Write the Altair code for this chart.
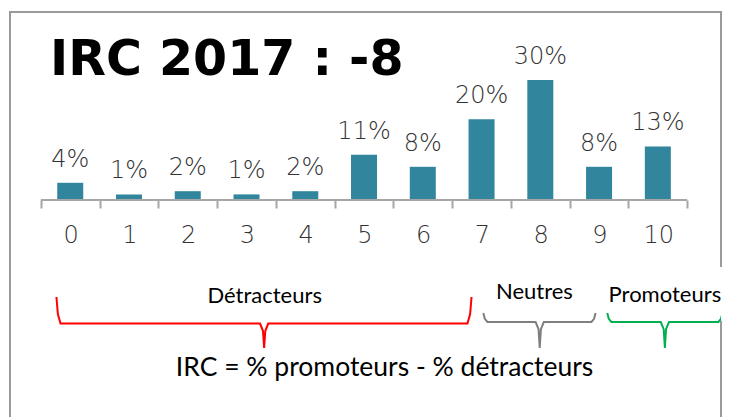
import altair as alt
import pandas as pd

# ---------------- data ----------------
scores = list(range(11))
pct = [4.3, 1.4, 2.2, 1.4, 2.2, 11.3, 8.3, 20.2, 30.0, 8.3, 13.4]

groups = ["Détracteurs", "Neutres", "Promoteurs"]
group_colors = ["#FF0000", "#7F7F7F", "#00B050"]
formula_text = "IRC = % promoteurs - % détracteurs"
title_text = "IRC 2017 : -8"

# ---------------- annotation layout (score units / % units) ----------------
brace_left = [-0.235, 7.03, 9.14]
brace_tip = [3.30, 7.99, 10.12]
brace_right = [6.83, 8.94, 11.10]
brace_top = [-24.25, -28.25, -28.25]
brace_mid = [-30.9, -30.5, -30.5]
brace_point = -37.0
group_label_x = [3.31, 7.9, 10.12]
group_label_y = [-25.75, -24.75, -25.5]
formula_pos = (5.35, -44.0)

W, H = 711, 420
x_lo, x_hi = -0.94, 10.99
y_lo, y_hi = -58.0, 47.0
zero_px = H * y_hi / (y_hi - y_lo)

bars = pd.DataFrame({"x": scores, "y": pct})
base_df = pd.DataFrame({"x": [scores[0] - 0.5], "x2": [scores[-1] + 0.5], "y": [0]})

rows = []
for g, xl, xm, xr, yt, yh in zip(groups, brace_left, brace_tip, brace_right, brace_top, brace_mid):
    k = (yt - yh) * 0.35
    pts = [(xl, yt), (xl + 0.025, yh + k), (xl + 0.07, yh),
           (xm - 0.07, yh), (xm - 0.02, yh - 1.8), (xm, brace_point),
           (xm + 0.02, yh - 1.8), (xm + 0.07, yh),
           (xr - 0.07, yh), (xr - 0.025, yh + k), (xr, yt)]
    for i, (px, py) in enumerate(pts):
        rows.append({"group": g, "i": i, "x": px, "y": py})
braces = pd.DataFrame(rows)

labels_df = pd.DataFrame({"x": group_label_x, "y": group_label_y, "t": groups})
formula_df = pd.DataFrame({"x": [formula_pos[0]], "y": [formula_pos[1]], "t": [formula_text]})
gap_df = pd.DataFrame({"x": [10.85], "x2": [11.25], "y": [-16.75], "y2": [-30.2]})

xscale = alt.Scale(domain=[x_lo, x_hi], nice=False, zero=False)
yscale = alt.Scale(domain=[y_lo, y_hi], nice=False)
step_px = W / (x_hi - x_lo)

xaxis = alt.Axis(
    values=[s - 0.5 for s in scores] + [scores[-1] + 0.5],
    labelExpr=f"datum.value < {scores[-1]} ? '' + (datum.value + 0.5) : ''",
    labelOffset=step_px / 2, labelFlush=False, labelOverlap=False,
    domain=False, grid=False, tickSize=8, tickWidth=2, tickColor="#A6A6A6",
    labelFont="DejaVu Sans", labelFontSize=24, labelFontWeight=200, labelColor="#333333",
    labelPadding=15, offset=-(H - zero_px), title=None,
)

X = alt.X("x:Q", scale=xscale, axis=xaxis)
Y = alt.Y("y:Q", scale=yscale, axis=None)

bar_layer = alt.Chart(bars).mark_bar(size=26, color="#31859C").encode(x=X, y=Y, y2=alt.datum(0))
text_layer = alt.Chart(bars).transform_calculate(
    lab="format(datum.y, '.0f') + '%'"
).mark_text(dy=-16, baseline="alphabetic", font="DejaVu Sans", fontSize=24,
            fontWeight=200, color="#333333").encode(x=X, y=Y, text="lab:N")
base_layer = alt.Chart(base_df).mark_rule(color="#A6A6A6", strokeWidth=2).encode(
    x=X, x2="x2:Q", y=Y)
gap_layer = alt.Chart(gap_df).mark_rect(color="white").encode(x=X, x2="x2:Q", y=Y, y2="y2:Q")
brace_layer = alt.Chart(braces).mark_line(strokeWidth=2, clip=True).encode(
    x=X, y=Y,
    color=alt.Color("group:N", scale=alt.Scale(domain=groups, range=group_colors), legend=None),
    detail="group:N", order=alt.Order("i:Q"))
glabel_layer = alt.Chart(labels_df).mark_text(
    font="Lato", fontSize=22, baseline="alphabetic", color="black").encode(x=X, y=Y, text="t:N")
formula_layer = alt.Chart(formula_df).mark_text(
    font="Lato", fontSize=26.5, baseline="alphabetic", color="black").encode(x=X, y=Y, text="t:N")

chart = alt.layer(
    bar_layer, base_layer, text_layer, gap_layer, brace_layer, glabel_layer, formula_layer
).properties(
    width=W, height=H,
    title=alt.TitleParams(title_text, anchor="start", frame="group", font="DejaVu Sans",
                          fontSize=49, fontWeight="bold", color="black",
                          baseline="alphabetic", offset=-112, dx=40),
    autosize=alt.AutoSizeParams(type="none"),
    padding={"left": 2, "top": 4, "right": 4, "bottom": 0},
).configure_view(stroke="#9A9A9A", strokeWidth=2)

chart.save("out.html", embed_options={"renderer": "svg", "actions": False})
